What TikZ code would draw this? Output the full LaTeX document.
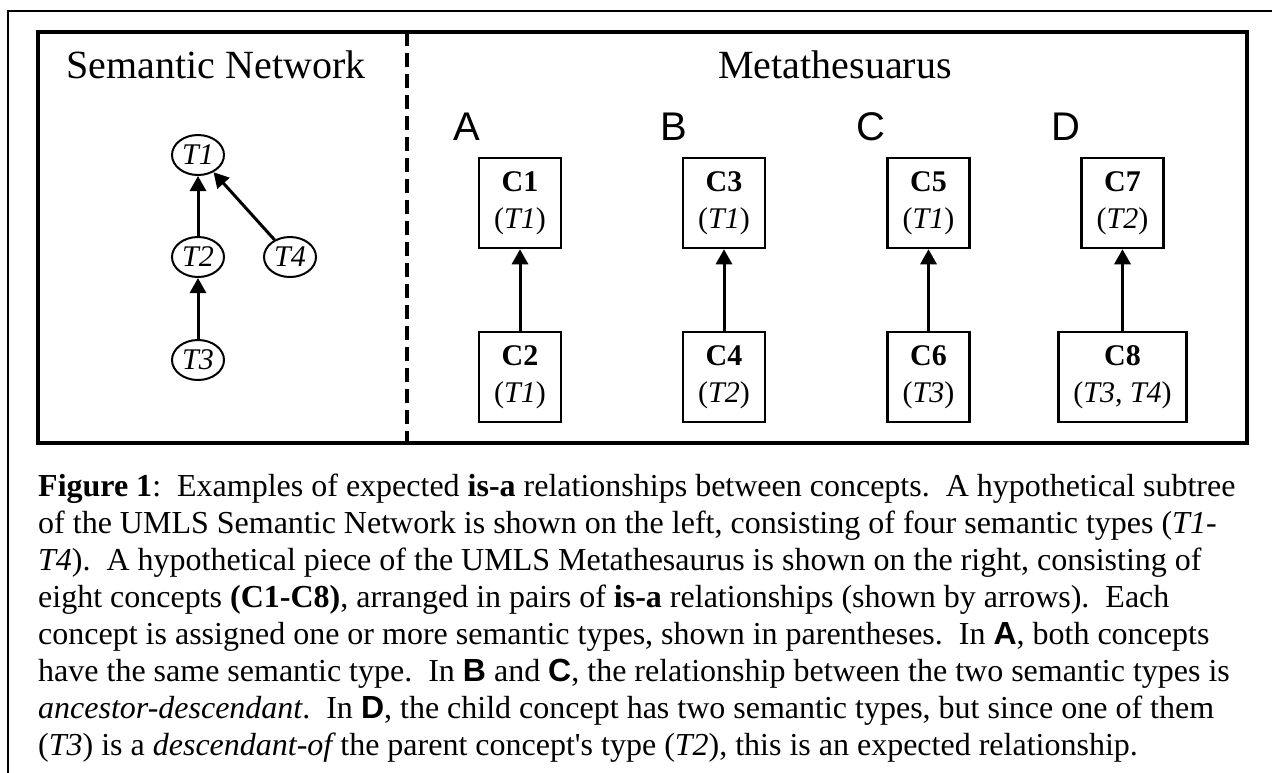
\documentclass[tikz,border=0pt]{standalone}
\usepackage{fontspec}
\setmainfont{Liberation Serif}
\setsansfont{Liberation Sans}
\usetikzlibrary{positioning, arrows.meta, shapes.geometric}
\tikzset{
    concept/.style={
        draw=black,
        line width=2.5pt,
        minimum width=82pt,
        minimum height=90pt,
        inner sep=2pt,
        align=center,
        font=\fontsize{30}{37}\selectfont
    },
    semtype/.style={
        ellipse,
        draw=black,
        line width=2pt,
        minimum width=52pt,
        minimum height=40pt,
        inner sep=0pt,
        font=\fontsize{30}{32}\selectfont\itshape
    },
    isa/.style={-{Triangle[length=15pt,width=16pt]}, line width=3pt},
    panel/.style={font=\fontsize{40}{46}\selectfont, anchor=base},
    pairlabel/.style={font=\sffamily\fontsize{40}{46}\selectfont, anchor=base west}
}

\begin{document}
\begin{tikzpicture}[x=1pt, y=-1pt, node distance=174pt, on grid]
            \useasboundingbox (0,0) rectangle (1272,772);

            % Frames
            \draw [line width=1.8pt] (8,800) -- (8,11) -- (1290,11);
            \draw [line width=4pt] (38,32) rectangle (1247,443);
            \draw [line width=3.5pt, dash pattern=on 14pt off 7pt] (407,32) -- (407,443);

            % Titles
            \node (semnet) [panel, anchor=base west] at (63,78) {Semantic Network};
            \node (meta) [panel] at (835,78) {Metathesuarus};

            % Semantic types
            \node (t1) [semtype] at (198,155) {T1};
            \node (t2) [semtype, below=102pt of t1] {T2};
            \node (t3) [semtype, below=103pt of t2] {T3};
            \node (t4) [semtype, right=92pt of t2] {T4};

            \path [isa]
                (t2) edge (t1)
                (t3) edge (t2)
                (t4) edge (t1)
            ;

            % Concepts
            \node (c1) [concept] at (520,203) {\textbf{C1}\\(\textit{T1})};
            \node (c2) [concept, below=of c1] {\textbf{C2}\\(\textit{T1})};
            \node (c3) [concept] at (724,203) {\textbf{C3}\\(\textit{T1})};
            \node (c4) [concept, below=of c3] {\textbf{C4}\\(\textit{T2})};
            \node (c5) [concept] at (928.5,203) {\textbf{C5}\\(\textit{T1})};
            \node (c6) [concept, below=of c5] {\textbf{C6}\\(\textit{T3})};
            \node (c7) [concept] at (1122.5,203) {\textbf{C7}\\(\textit{T2})};
            \node (c8) [concept, minimum width=128pt, below=of c7] {\textbf{C8}\\(\textit{T3}, \textit{T4})};

            % Pair labels
            \node (la) [pairlabel] at (450,140) {A};
            \node (lb) [pairlabel] at (657,140) {B};
            \node (lc) [pairlabel] at (853,140) {C};
            \node (ld) [pairlabel] at (1048,140) {D};

            % is-a links
            \path [isa]
                (c2) edge (c1)
                (c4) edge (c3)
                (c6) edge (c5)
                (c8) edge (c7)
            ;

            % Caption
            \node (caption) [anchor=north west, align=left, inner sep=0pt,
                font=\fontsize{32}{37}\selectfont\frenchspacing] at (38,474) {%
                \textbf{Figure 1}:\ \ Examples of expected \textbf{is-a} relationships between concepts.\ \ A hypothetical subtree\\
                of the UMLS Semantic Network is shown on the left, consisting of four semantic types (\textit{T1}-\\
                \textit{T4}).\ \ A hypothetical piece of the UMLS Metathesaurus is shown on the right, consisting of\\
                eight concepts \textbf{(C1-C8)}, arranged in pairs of \textbf{is-a} relationships (shown by arrows).\ \ Each\\
                concept is assigned one or more semantic types, shown in parentheses.\ \ In \textsf{\textbf{A}}, both concepts\\
                have the same semantic type.\ \ In \textsf{\textbf{B}} and \textsf{\textbf{C}}, the relationship between the two semantic types is\\
                \textit{ancestor-descendant}.\ \ In \textsf{\textbf{D}}, the child concept has two semantic types, but since one of them\\
                (\textit{T3}) is a {\itshape descendant-of} the parent concept\textquotesingle s type (\textit{T2}), this is an expected relationship.};
        \end{tikzpicture}
\end{document}
